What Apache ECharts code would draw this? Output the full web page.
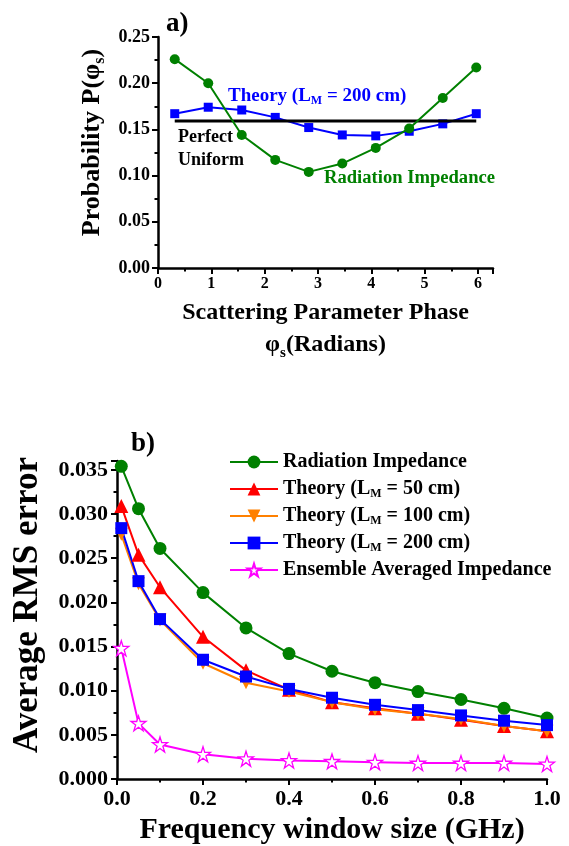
<!DOCTYPE html>
<html>
<head>
<meta charset="utf-8">
<script src="https://cdn.jsdelivr.net/npm/echarts@6/dist/echarts.min.js"></script>
<style>html,body{margin:0;padding:0;background:#fff;}#c{width:569px;height:846px;}</style>
</head>
<body>
<div id="c"></div>
<script>
// ---- Panel a) data ----
const phase = [0.314, 0.942, 1.571, 2.199, 2.827, 3.456, 4.084, 4.712, 5.341, 5.969];
const probRadiation = [0.226, 0.200, 0.144, 0.117, 0.104, 0.113, 0.130, 0.151, 0.184, 0.217];
const probTheory200 = [0.167, 0.174, 0.171, 0.163, 0.152, 0.144, 0.143, 0.148, 0.156, 0.167];
const uniformX = [0.314, 5.969];
const uniformP = [0.159, 0.159];

// ---- Panel b) data ----
const windowSize = [0.01, 0.05, 0.1, 0.2, 0.3, 0.4, 0.5, 0.6, 0.7, 0.8, 0.9, 1.0];
const rmsRadiation = [0.0354, 0.0306, 0.0261, 0.0211, 0.0171, 0.0142, 0.0122, 0.0109, 0.0099, 0.0090, 0.0080, 0.0069];
const rmsTheory50 = [0.0309, 0.0254, 0.0217, 0.0161, 0.0123, 0.0101, 0.0087, 0.0080, 0.0074, 0.0067, 0.0060, 0.0054];
const rmsTheory100 = [0.0277, 0.0221, 0.0180, 0.0131, 0.0109, 0.0099, 0.0087, 0.0079, 0.0074, 0.0068, 0.0060, 0.0054];
const rmsTheory200 = [0.0284, 0.0224, 0.0181, 0.0135, 0.0116, 0.0102, 0.0092, 0.0084, 0.0078, 0.0072, 0.0066, 0.0061];
const rmsEnsemble = [0.0148, 0.0063, 0.0039, 0.0028, 0.0023, 0.0021, 0.0020, 0.0019, 0.0018, 0.0018, 0.0018, 0.0017];

const xTicksA = [0, 1, 2, 3, 4, 5, 6];
const legendNames = ['Radiation Impedance', 'Theory (L{sub|M} = 50 cm)', 'Theory (L{sub|M} = 100 cm)', 'Theory (L{sub|M} = 200 cm)', 'Ensemble Averaged Impedance'];

const F = 'Liberation Serif';
const zip = (xs, ys) => xs.map((x, i) => [x, ys[i]]);
const STAR = 'path://M50,2 L61,36 L97,36 L68,57 L79,92 L50,71 L21,92 L32,57 L3,36 L39,36 Z';

// subscript: small token aligned to the bottom of the line
const subRich = (size, lh, color) => ({
  sub: { fontFamily: F, fontWeight: 'bold', fontSize: Math.round(size * 0.62), color: color,
         verticalAlign: 'bottom', lineHeight: Math.max(2, lh - 0.9 * size) }
});

const axisCommon = {
  axisLine: { show: true, lineStyle: { color: '#000', width: 2.5 } },
  axisTick: { show: true, inside: false, length: 6, lineStyle: { color: '#000', width: 2 } },
  minorTick: { show: true, splitNumber: 2, length: 3.5, lineStyle: { color: '#000', width: 2 } },
  splitLine: { show: false }
};

const chart = echarts.init(document.getElementById('c'), null, { renderer: 'canvas' });

const option = {
  backgroundColor: '#fff',
  animation: false,
  textStyle: { fontFamily: F },
  grid: [
    { left: 158, right: 76, top: 37, height: 231 },
    { left: 117, right: 22, top: 461, height: 319 }
  ],
  xAxis: [
    Object.assign({}, axisCommon, {
      gridIndex: 0, type: 'value', min: 0, max: 6.283, interval: 1,
      axisLabel: { show: true, showMaxLabel: false, margin: 8, fontFamily: F, fontWeight: 'bold', fontSize: 16, color: '#000',
        formatter: v => (xTicksA.indexOf(Math.round(v * 1000) / 1000) >= 0 ? String(v) : '') },
      name: 'Scattering Parameter Phase\nφ{sub|s}(Radians)', nameLocation: 'middle', nameGap: 29,
      nameTextStyle: { fontFamily: F, fontWeight: 'bold', fontSize: 24, color: '#000', lineHeight: 32, rich: subRich(24, 32, '#000') }
    }),
    Object.assign({}, axisCommon, {
      gridIndex: 1, type: 'value', min: 0, max: 1, interval: 0.2,
      axisLabel: { show: true, margin: 9, fontFamily: F, fontWeight: 'bold', fontSize: 22, color: '#000', formatter: v => v.toFixed(1) },
      name: 'Frequency window size (GHz)', nameLocation: 'middle', nameGap: 36,
      nameTextStyle: { fontFamily: F, fontWeight: 'bold', fontSize: 30, color: '#000' }
    })
  ],
  yAxis: [
    Object.assign({}, axisCommon, {
      gridIndex: 0, type: 'value', min: 0, max: 0.25, interval: 0.05,
      axisLabel: { margin: 8, fontFamily: F, fontWeight: 'bold', fontSize: 18, color: '#000', formatter: v => v.toFixed(2) },
      name: 'Probability P(φ{sub|s})', nameLocation: 'middle', nameRotate: 90, nameGap: 50,
      nameTextStyle: { fontFamily: F, fontWeight: 'bold', fontSize: 26, color: '#000', lineHeight: 30, padding: [0, 0, 0, 20], rich: subRich(26, 30, '#000') }
    }),
    Object.assign({}, axisCommon, {
      gridIndex: 1, type: 'value', min: 0, max: 0.036, interval: 0.005,
      axisLabel: { margin: 9, showMaxLabel: false, fontFamily: F, fontWeight: 'bold', fontSize: 22, color: '#000', formatter: v => v.toFixed(3) },
      name: 'Average RMS error', nameLocation: 'middle', nameRotate: 90, nameGap: 72,
      nameTextStyle: { fontFamily: F, fontWeight: 'bold', fontSize: 35, color: '#000', padding: [0, 0, 0, 30] }
    })
  ],
  legend: {
    orient: 'vertical', left: 229, top: 451, padding: 0,
    itemWidth: 48, itemHeight: 16, itemGap: 5,
    data: legendNames,
    textStyle: { fontFamily: F, fontWeight: 'bold', fontSize: 20, color: '#000', lineHeight: 22, rich: subRich(20, 22, '#000') }
  },
  graphic: [
    { type: 'text', left: 166, top: 11, style: { text: 'a)', font: 'bold 27px "Liberation Serif"', fill: '#000' } },
    { type: 'text', left: 131, top: 431, style: { text: 'b)', font: 'bold 27px "Liberation Serif"', fill: '#000' } },
    { type: 'text', left: 228, top: 85, style: { text: 'Theory (L{sub|M} = 200 cm)', font: 'bold 19px "Liberation Serif"', fill: '#0000ff', lineHeight: 22,
        rich: { sub: { font: 'bold 12px "Liberation Serif"', fill: '#0000ff', verticalAlign: 'bottom', lineHeight: 5 } } } },
    { type: 'text', left: 178, top: 126, style: { text: 'Perfect\nUniform', font: 'bold 18px "Liberation Serif"', fill: '#000', lineHeight: 23, align: 'left' } },
    { type: 'text', left: 324, top: 169, style: { text: 'Radiation Impedance', font: 'bold 18.6px "Liberation Serif"', fill: '#008000' } }
  ],
  series: [
    { name: 'uniform', type: 'line', xAxisIndex: 0, yAxisIndex: 0, data: zip(uniformX, uniformP), showSymbol: false, symbol: 'none',
      lineStyle: { color: '#000', width: 3 }, itemStyle: { color: '#000' }, z: 3 },
    { name: 'theoryA', type: 'line', xAxisIndex: 0, yAxisIndex: 0, data: zip(phase, probTheory200), symbol: 'rect', symbolSize: 9,
      lineStyle: { color: '#0000ff', width: 2 }, itemStyle: { color: '#0000ff' }, z: 2 },
    { name: 'radA', type: 'line', xAxisIndex: 0, yAxisIndex: 0, data: zip(phase, probRadiation), symbol: 'circle', symbolSize: 10,
      lineStyle: { color: '#008000', width: 2 }, itemStyle: { color: '#008000' }, z: 4 },

    { name: legendNames[0], type: 'line', xAxisIndex: 1, yAxisIndex: 1, data: zip(windowSize, rmsRadiation), symbol: 'circle', symbolSize: 13,
      lineStyle: { color: '#008000', width: 2 }, itemStyle: { color: '#008000' }, clip: false },
    { name: legendNames[1], type: 'line', xAxisIndex: 1, yAxisIndex: 1, data: zip(windowSize, rmsTheory50), symbol: 'triangle', symbolSize: 14,
      lineStyle: { color: '#ff0000', width: 2 }, itemStyle: { color: '#ff0000' }, clip: false },
    { name: legendNames[2], type: 'line', xAxisIndex: 1, yAxisIndex: 1, data: zip(windowSize, rmsTheory100), symbol: 'triangle', symbolRotate: 180, symbolSize: 13,
      lineStyle: { color: '#ff8000', width: 2 }, itemStyle: { color: '#ff8000' }, clip: false },
    { name: legendNames[3], type: 'line', xAxisIndex: 1, yAxisIndex: 1, data: zip(windowSize, rmsTheory200), symbol: 'rect', symbolSize: 12,
      lineStyle: { color: '#0000ff', width: 2 }, itemStyle: { color: '#0000ff' }, clip: false },
    { name: legendNames[4], type: 'line', xAxisIndex: 1, yAxisIndex: 1, data: zip(windowSize, rmsEnsemble), symbol: STAR, symbolSize: 15,
      lineStyle: { color: '#ff00ff', width: 2 }, itemStyle: { color: '#fff', borderColor: '#ff00ff', borderWidth: 1.3 }, clip: false }
  ]
};
chart.setOption(option);
</script>
</body>
</html>
